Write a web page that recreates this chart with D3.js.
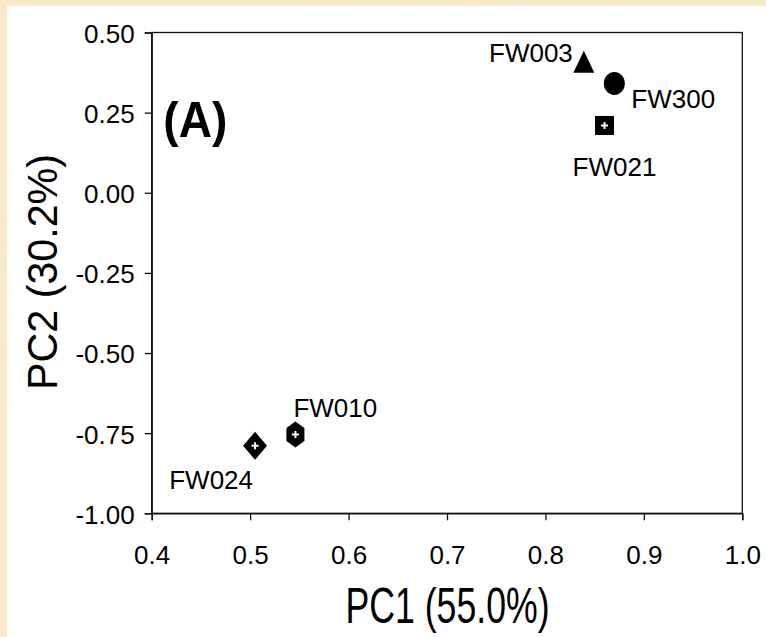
<!DOCTYPE html>
<html>
<head>
<meta charset="utf-8">
<script src="https://cdn.jsdelivr.net/npm/d3@7"></script>
<style>
  body { margin: 0; padding: 0; background: #f6e8c8; }
  svg { display: block; }
  text { font-family: "Liberation Sans", Arial, sans-serif; fill: #000; }
</style>
</head>
<body>
<div id="chartDiv"></div>
<script>
// PCA scores
var samples = ["FW003", "FW300", "FW021", "FW010", "FW024"];
var pc1 = [0.839, 0.870, 0.860, 0.546, 0.505];
var pc2 = [0.406, 0.341, 0.210, -0.754, -0.789];
var shapes = ["triangle", "circle", "square", "hexagon", "diamond"];

var xTicks = [0.4, 0.5, 0.6, 0.7, 0.8, 0.9, 1.0];
var yTicks = [0.50, 0.25, 0.00, -0.25, -0.50, -0.75, -1.00];

// label placement relative to each marker (layout only)
var labelPos = [
  {dx: -11, dy: -1, anchor: "end"},
  {dx: 17, dy: 25, anchor: "start"},
  {dx: 10, dy: 51, anchor: "middle"},
  {dx: -2, dy: -17, anchor: "start"},
  {dx: -2, dy: 43, anchor: "end"}
];

var W = 766, H = 637;
var margin = {top: 32.5, right: 23.7, bottom: 123.7, left: 151.7};
var width = W - margin.left - margin.right,
    height = H - margin.top - margin.bottom;

var svg = d3.select("#chartDiv").append("svg")
    .attr("width", W)
    .attr("height", H);

// beige texture
var defs = svg.append("defs");
var filt = defs.append("filter").attr("id", "paper").attr("x", 0).attr("y", 0).attr("width", "100%").attr("height", "100%");
filt.append("feTurbulence").attr("type", "fractalNoise").attr("baseFrequency", 0.02).attr("numOctaves", 3).attr("seed", 4).attr("result", "n");
filt.append("feColorMatrix").attr("in", "n").attr("type", "matrix")
    .attr("values", "0 0 0 0 0.93  0 0 0 0 0.86  0 0 0 0 0.70  0 0 0 1.2 -0.4");
filt.append("feComposite").attr("in2", "SourceGraphic").attr("operator", "in");

svg.append("rect").attr("width", W).attr("height", H).attr("fill", "#f7e9ca");
svg.append("rect").attr("width", W).attr("height", H).attr("fill", "#f7e9ca").attr("filter", "url(#paper)").attr("opacity", 0.6);

// white panel
svg.append("rect").attr("x", 7).attr("y", 6).attr("width", W - 7).attr("height", H - 6).attr("fill", "#fff");

var chart = svg.append("g").attr("transform", "translate(" + margin.left + "," + margin.top + ")");

var x_scale = d3.scaleLinear().domain([0.4, 1.0]).range([0, width]);
var y_scale = d3.scaleLinear().domain([-1.0, 0.5]).range([height, 0]);

// frame
chart.append("rect")
    .attr("width", width).attr("height", height)
    .attr("fill", "none").attr("stroke", "#111").attr("stroke-width", 1.3);

var xAxis = d3.axisBottom(x_scale).tickValues(xTicks).tickSize(7).tickPadding(25)
    .tickFormat(function(d){ return d.toFixed(1); });
var yAxis = d3.axisLeft(y_scale).tickValues(yTicks).tickSize(7).tickPadding(10)
    .tickFormat(function(d){ return d.toFixed(2); });

var xGroup = chart.append("g").attr("transform", "translate(0," + height + ")").call(xAxis);
var yGroup = chart.append("g").call(yAxis);

[xGroup, yGroup].forEach(function(g){
  g.select(".domain").attr("stroke", "#111").attr("stroke-width", 1.3);
  g.selectAll(".tick line").attr("stroke", "#111").attr("stroke-width", 1.3);
  g.selectAll(".tick text").attr("font-size", 26).attr("font-family", "Liberation Sans, Arial, sans-serif").attr("fill", "#000");
});
yGroup.selectAll(".tick text").attr("dy", "0.38em");

// axis titles
svg.append("text")
    .attr("x", 447.5).attr("y", 623)
    .attr("text-anchor", "middle")
    .attr("font-size", 50)
    .attr("textLength", 204).attr("lengthAdjust", "spacingAndGlyphs")
    .text("PC1 (55.0%)");

svg.append("text")
    .attr("transform", "translate(57,272) rotate(-90)")
    .attr("text-anchor", "middle")
    .attr("font-size", 42)
    .attr("textLength", 236).attr("lengthAdjust", "spacingAndGlyphs")
    .text("PC2 (30.2%)");

// panel letter
chart.append("text")
    .attr("x", 163.3 - margin.left).attr("y", 136.7 - margin.top)
    .attr("font-size", 50).attr("font-weight", "bold")
    .attr("textLength", 64).attr("lengthAdjust", "spacingAndGlyphs")
    .text("(A)");

// markers
function markerPath(s) {
  if (s === "triangle") return "M0,-12 L10.5,10 L-10.5,10 Z";
  if (s === "square") return "M-9.5,-9.5 H9.5 V9.5 H-9.5 Z";
  if (s === "diamond") return "M0,-14 L12,0 L0,14 L-12,0 Z";
  if (s === "hexagon") return "M0,-13 L9,-6.5 L9,6.5 L0,13 L-9,6.5 L-9,-6.5 Z";
  return null;
}

var pts = chart.selectAll(".pt").data(samples).enter().append("g")
    .attr("class", "pt")
    .attr("transform", function(d, i){ return "translate(" + x_scale(pc1[i]) + "," + y_scale(pc2[i]) + ")"; });

pts.each(function(d, i){
  var g = d3.select(this);
  var s = shapes[i];
  if (s === "circle") {
    g.append("ellipse").attr("rx", 10.5).attr("ry", 11.5).attr("fill", "#000");
  } else {
    g.append("path").attr("d", markerPath(s)).attr("fill", "#000");
  }
  if (s === "square" || s === "diamond" || s === "hexagon") {
    g.append("path").attr("d", "M-3.5,0 H3.5 M0,-3.5 V3.5")
      .attr("stroke", "#fff").attr("stroke-width", 2).attr("fill", "none");
  }
  g.append("text")
    .attr("x", labelPos[i].dx).attr("y", labelPos[i].dy)
    .attr("text-anchor", labelPos[i].anchor)
    .attr("font-size", 26)
    .text(d);
});
</script>
</body>
</html>
